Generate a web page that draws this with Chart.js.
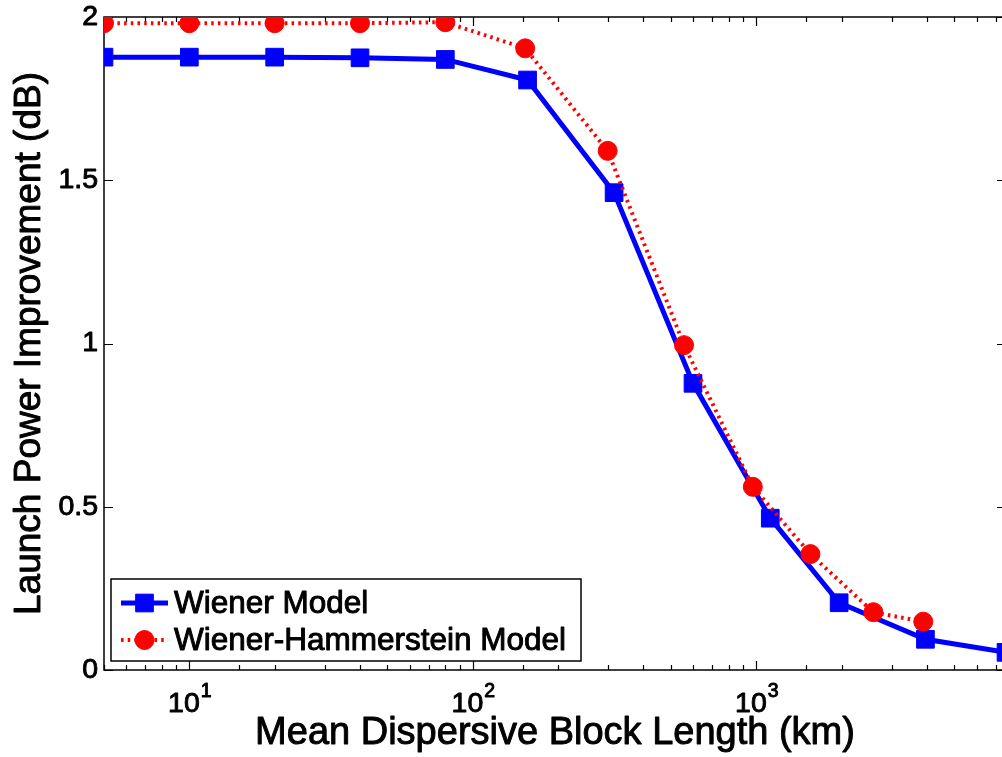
<!DOCTYPE html>
<html><head><meta charset="utf-8">
<script src="https://cdn.jsdelivr.net/npm/chart.js@4.4.1/dist/chart.umd.min.js"></script>
<style>
html,body{margin:0;padding:0;background:#fff;overflow:hidden;width:1002px;height:757px}
#wrap{position:absolute;left:0;top:0;width:1010px;height:757px}
</style></head>
<body><div id="wrap"><canvas id="c" width="1010" height="757"></canvas></div>
<script>
const wienerX = [5, 10, 20, 40, 80, 156, 315, 598, 1120, 1960, 3950, 7600];
const wienerY = [1.877, 1.877, 1.877, 1.875, 1.870, 1.807, 1.462, 0.878, 0.465, 0.206, 0.094, 0.054];
const whX = [5, 10, 20, 40, 80, 153, 299, 556, 972, 1552, 2588, 3880];
const whY = [1.981, 1.981, 1.981, 1.981, 1.984, 1.904, 1.590, 0.995, 0.561, 0.355, 0.177, 0.148];
const seriesNames = ['Wiener Model', 'Wiener-Hammerstein Model'];
const yTickValues = [0, 0.5, 1, 1.5, 2];
const yTickLabels = ['0', '0.5', '1', '1.5', '2'];
const xMajorTicks = [10, 100, 1000];
const xTickBase = ['10', '10', '10'];
const xTickExp = ['1', '2', '3'];
const xTitle = 'Mean Dispersive Block Length (km)';
const yTitle = 'Launch Power Improvement (dB)';

const FONT = "'Liberation Sans', Arial, Helvetica, sans-serif";
Chart.defaults.font.family = FONT;
Chart.defaults.color = '#000';

const toPts = (xs, ys) => xs.map((x, i) => ({x: x, y: ys[i]}));

// slightly heavier text rendering (like the reference's Helvetica)
const cv = document.getElementById('c');
const c2d = cv.getContext('2d');
const origFillText = c2d.fillText;
c2d.fillText = function (text, x, y, maxWidth) {
  if (maxWidth === undefined) origFillText.call(this, text, x, y);
  else origFillText.call(this, text, x, y, maxWidth);
  this.save();
  this.strokeStyle = this.fillStyle;
  this.lineWidth = 0.95;
  this.lineJoin = 'round';
  this.setLineDash([]);
  if (maxWidth === undefined) this.strokeText(text, x, y);
  else this.strokeText(text, x, y, maxWidth);
  this.restore();
};

const framePlugin = {
  id: 'frame',
  beforeDatasetsDraw(chart) {
    const {ctx, chartArea: a, scales} = chart;
    ctx.save();
    ctx.strokeStyle = '#000';
    ctx.lineWidth = 1.5;
    ctx.strokeRect(a.left, a.top, a.right - a.left, a.bottom - a.top);
    ctx.lineWidth = 1.2;
    ctx.beginPath();
    scales.x.ticks.forEach(t => {
      const px = Math.round(scales.x.getPixelForValue(t.value)) + 0.5;
      const lg = Math.log10(t.value);
      const major = Math.abs(lg - Math.round(lg)) < 1e-9;
      const len = major ? 9 : 5;
      ctx.moveTo(px, a.bottom); ctx.lineTo(px, a.bottom - len);
      ctx.moveTo(px, a.top); ctx.lineTo(px, a.top + len);
    });
    yTickValues.forEach(v => {
      const py = Math.round(scales.y.getPixelForValue(v)) + 0.5;
      ctx.moveTo(a.left, py); ctx.lineTo(a.left + 9, py);
      ctx.moveTo(a.right, py); ctx.lineTo(a.right - 9, py);
    });
    ctx.stroke();
    ctx.restore();
  },
  afterDraw(chart) {
    const {ctx, scales, chartArea: a} = chart;
    ctx.save();
    ctx.fillStyle = '#000';
    ctx.textBaseline = 'alphabetic';
    ctx.textAlign = 'left';
    xMajorTicks.forEach((v, i) => {
      const px = scales.x.getPixelForValue(v);
      ctx.font = '28.5px ' + FONT;
      const wb = ctx.measureText(xTickBase[i]).width;
      ctx.font = '19.5px ' + FONT;
      const we = ctx.measureText(xTickExp[i]).width;
      const x0 = px - (wb + we) / 2;
      ctx.font = '28.5px ' + FONT;
      ctx.fillText(xTickBase[i], x0, a.bottom + 42);
      ctx.font = '19.5px ' + FONT;
      ctx.fillText(xTickExp[i], x0 + wb + 1, a.bottom + 27);
    });
    // legend
    const lx = 111, ly = 579, lw = 470, lh = 82;
    ctx.fillStyle = '#fff';
    ctx.fillRect(lx, ly, lw, lh);
    ctx.strokeStyle = '#000';
    ctx.lineWidth = 1.5;
    ctx.strokeRect(lx, ly, lw, lh);
    chart.data.datasets.forEach((ds, i) => {
      const cy = 603 + i * 37;
      ctx.save();
      ctx.strokeStyle = ds.borderColor;
      ctx.lineWidth = ds.borderWidth;
      ctx.setLineDash(ds.borderDash || []);
      ctx.beginPath();
      ctx.moveTo(121, cy); ctx.lineTo(168, cy);
      ctx.stroke();
      ctx.setLineDash([]);
      ctx.fillStyle = ds.pointBackgroundColor;
      ctx.strokeStyle = ds.pointBorderColor;
      ctx.lineWidth = ds.pointBorderWidth;
      Chart.helpers.drawPoint(ctx, {pointStyle: ds.pointStyle, radius: ds.pointRadius, borderWidth: ds.pointBorderWidth, rotation: 0}, 144.5, cy);
      ctx.restore();
      ctx.fillStyle = '#000';
      ctx.font = '31.5px ' + FONT;
      ctx.textBaseline = 'middle';
      ctx.fillText(ds.label, 174, cy + 1);
    });
    ctx.restore();
  }
};

new Chart(cv, {
  type: 'line',
  data: {
    datasets: [
      {
        label: seriesNames[0],
        data: toPts(wienerX, wienerY),
        borderColor: '#0000ff',
        borderWidth: 5,
        pointStyle: 'rect',
        pointRadius: 12.5,
        pointBackgroundColor: '#0000ff',
        pointBorderColor: '#0000ff',
        pointBorderWidth: 1,
        tension: 0,
        order: 1
      },
      {
        label: seriesNames[1],
        data: toPts(whX, whY),
        borderColor: '#ff0000',
        borderWidth: 4,
        borderDash: [2.5, 4.2],
        pointStyle: 'circle',
        pointRadius: 9.5,
        pointBackgroundColor: '#ff0000',
        pointBorderColor: '#ff0000',
        pointBorderWidth: 1,
        tension: 0,
        order: 0
      }
    ]
  },
  options: {
    responsive: false,
    animation: false,
    layout: {autoPadding: false, padding: {top: 17, right: 4, left: 0, bottom: 0}},
    plugins: {legend: {display: false}, tooltip: {enabled: false}},
    scales: {
      x: {
        type: 'logarithmic',
        min: 5, max: 7600,
        grid: {display: false, drawTicks: false},
        border: {display: false},
        ticks: {display: false},
        title: {display: true, text: xTitle, font: {size: 38, family: FONT}, color: '#000', padding: {top: 0, bottom: 1}},
        afterFit: s => { s.height = 87; s.paddingLeft = 0; s.paddingRight = 0; }
      },
      y: {
        type: 'linear',
        min: 0, max: 2,
        grid: {display: false, drawTicks: false},
        border: {display: false},
        afterBuildTicks: s => { s.ticks = yTickValues.map(v => ({value: v})); },
        ticks: {
          font: {size: 28.5, family: FONT}, color: '#000', padding: 6,
          callback: v => yTickLabels[yTickValues.indexOf(v)]
        },
        title: {display: true, text: yTitle, font: {size: 37, family: FONT}, color: '#000', padding: {top: 8, bottom: 0}},
        afterFit: s => { s.width = 104; s.paddingTop = 0; s.paddingBottom = 0; }
      }
    }
  },
  plugins: [framePlugin]
});
</script>
</body></html>
